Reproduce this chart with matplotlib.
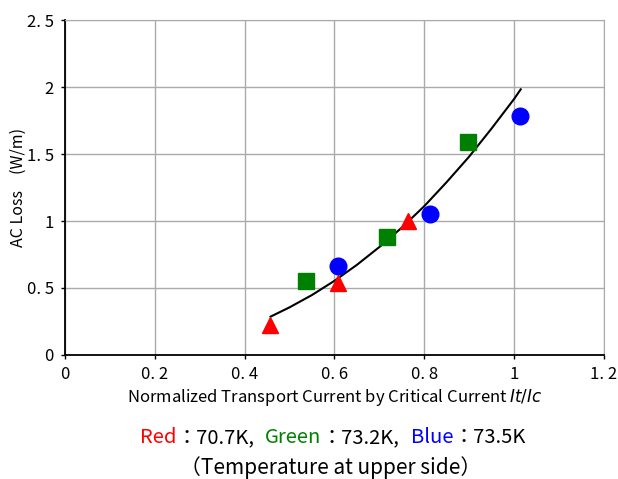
import numpy as np
import matplotlib
matplotlib.use("Agg")
import matplotlib.pyplot as plt

plt.rcParams['font.family'] = ['Noto Sans CJK JP', 'DejaVu Sans']

# Datos
red_x = [0.457, 0.609, 0.763]
red_y = [0.22, 0.535, 1.00]
green_x = [0.538, 0.717, 0.898]
green_y = [0.55, 0.878, 1.587]
blue_x = [0.608, 0.812, 1.014]
blue_y = [0.664, 1.052, 1.786]

# Curva de tendencia (puntos leidos)
fit_x = [0.458, 0.5, 0.55, 0.6, 0.65, 0.7, 0.75, 0.8, 0.85, 0.9, 0.95, 1.0, 1.015]
fit_y = [0.286, 0.355, 0.447, 0.553, 0.672, 0.805, 0.950, 1.11, 1.29, 1.48, 1.69, 1.91, 1.983]

xticks = [0, 0.2, 0.4, 0.6, 0.8, 1, 1.2]
xtick_labels = ["0", "0. 2", "0. 4", "0. 6", "0. 8", "1", "1. 2"]
yticks = [0, 0.5, 1, 1.5, 2, 2.5]
ytick_labels = ["0", "0. 5", "1", "1. 5", "2", "2. 5"]

fig = plt.figure(figsize=(6.18, 4.79), dpi=100)
ax = fig.add_axes([0.105, 0.259, 0.872, 0.699])

ax.plot(fit_x, fit_y, color='black', linewidth=1.5, zorder=3)
ax.plot(red_x, red_y, '^', color='red', markersize=12, zorder=4, linestyle='none')
ax.plot(green_x, green_y, 's', color='green', markersize=12, zorder=4, linestyle='none')
ax.plot(blue_x, blue_y, 'o', color='blue', markersize=12, zorder=4, linestyle='none')

ax.set_xlim(0, 1.2)
ax.set_ylim(0, 2.5)
ax.set_xticks(xticks)
ax.set_xticklabels(xtick_labels, fontsize=12)
ax.set_yticks(yticks)
ax.set_yticklabels(ytick_labels, fontsize=12)
ax.tick_params(direction='out', length=3, width=1, pad=5)
ax.grid(True, color='#aaaaaa', linewidth=1)
ax.set_axisbelow(True)
for s in ['top', 'right']:
    ax.spines[s].set_color('#aaaaaa')
for s in ['left', 'bottom']:
    ax.spines[s].set_linewidth(1.3)

ax.set_ylabel("AC Loss\u3000(W/m)", fontsize=11.5)
ax.yaxis.set_label_coords(-0.07, 0.5)
ax.set_xlabel("Normalized Transport Current by Critical Current $\\it{It/Ic}$",
              fontsize=12, labelpad=3)

# Leyenda en colores
y1 = 0.075
parts = [("Red", 'red'), ("：70.7K,", 'black'), ("Green", 'green'),
         ("：73.2K,", 'black'), ("Blue", 'blue'), ("：73.5K", 'black')]
gaps = [0, 0.018, 0, 0.018, 0, 0]
renderer = fig.canvas.get_renderer()
texts = []
widths = []
for (txt, col), g in zip(parts, gaps):
    t = fig.text(0, y1, txt, color=col, fontsize=14.5, va='baseline')
    texts.append(t)
    widths.append(t.get_window_extent(renderer).width / fig.bbox.width + g)
total = sum(widths)
x0 = 0.538 - total / 2
for t, w in zip(texts, widths):
    t.set_x(x0)
    x0 += w

fig.text(0.535, 0.0, "（Temperature at upper side）", fontsize=15, ha='center', va='bottom')

fig.savefig("out.png", dpi=100)
